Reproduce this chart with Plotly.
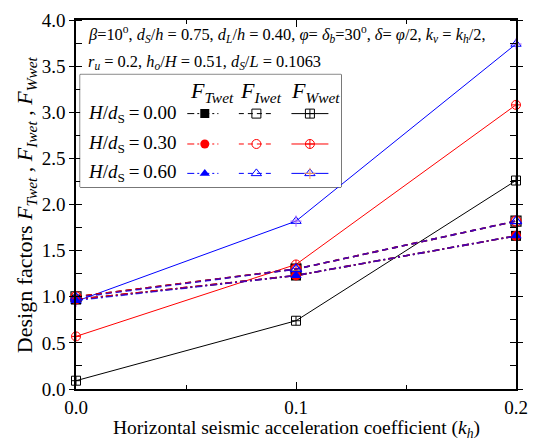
import plotly.graph_objects as go

# ---------------- data ----------------
kh = [0.0, 0.1, 0.2]
FT_000 = [0.97, 1.23, 1.66]
FT_030 = [0.97, 1.23, 1.66]
FT_060 = [0.96, 1.23, 1.66]
FI_000 = [1.00, 1.30, 1.82]
FI_030 = [1.00, 1.30, 1.82]
FI_060 = [0.99, 1.30, 1.82]
FW_000 = [0.09, 0.74, 2.26]
FW_030 = [0.57, 1.35, 3.08]
FW_060 = [0.95, 1.82, 3.74]
x_ticks = [0.0, 0.1, 0.2]
x_ticklabels = ["0.0", "0.1", "0.2"]
y_ticks = [0.0, 0.5, 1.0, 1.5, 2.0, 2.5, 3.0, 3.5, 4.0]
y_ticklabels = ["0.0", "0.5", "1.0", "1.5", "2.0", "2.5", "3.0", "3.5", "4.0"]
row_labels = ["0.00", "0.30", "0.60"]

FONT = "Liberation Serif"
BLACK, RED, BLUE = "#000000", "#FF0000", "#0000FF"

fig = go.Figure()

series = [
    (BLACK, "square", "square-open", "square-cross-open", FT_000, FI_000, FW_000, 1.0),
    (RED, "circle", "circle-open", "circle-cross-open", FT_030, FI_030, FW_030, 1.0),
    (BLUE, "triangle-up", "triangle-up-open", "triangle-up-open", FT_060, FI_060, FW_060, 0.7),
]

# solid W lines
for col, sT, sI, sW, ft, fi, fw, op in series:
    fig.add_trace(go.Scatter(x=kh, y=fw, mode="lines+markers",
                             line=dict(color=col, width=1),
                             marker=dict(symbol=sW, size=9, color=col, line=dict(width=1, color=col)),
                             showlegend=False, cliponaxis=False))
    if sW == "triangle-up-open":
        fig.add_trace(go.Scatter(x=kh, y=fw, mode="markers",
                                 marker=dict(symbol="cross-thin-open", size=8, line=dict(width=1, color=col)),
                                 showlegend=False, cliponaxis=False))
# dashed lines
for col, sT, sI, sW, ft, fi, fw, op in series:
    fig.add_trace(go.Scatter(x=kh, y=fi, mode="lines", opacity=op,
                             line=dict(color=col, width=1.6, dash="6px,4px"),
                             showlegend=False))
    fig.add_trace(go.Scatter(x=kh, y=ft, mode="lines", opacity=op,
                             line=dict(color=col, width=1.6, dash="7px,3px,2px,3px"),
                             showlegend=False))
for col, sT, sI, sW, ft, fi, fw, op in series:
    fig.add_trace(go.Scatter(x=kh, y=fi, mode="markers",
                             marker=dict(symbol=sI, size=10, color=col, line=dict(width=1.2, color=col)),
                             showlegend=False, cliponaxis=False))
    fig.add_trace(go.Scatter(x=kh, y=ft, mode="markers",
                             marker=dict(symbol=sT, size=10, color=col, line=dict(width=0, color=col)),
                             showlegend=False, cliponaxis=False))

# ---------------- legend (own axes in pixel-like units) ----------------
row_y = [108, 139, 169]
seg = [(190, 222, 208, "7px,3px,2px,3px"), (243, 277, 261, "5px,4px"), (297, 335, 316, "solid")]
for (col, sT, sI, sW, *_), ry in zip(series, row_y):
    syms = [sT, sI, sW]
    for k, (x0, x1, xm, dash) in enumerate(seg):
        fig.add_trace(go.Scatter(x=[x0, x1], y=[ry, ry], mode="lines", xaxis="x2", yaxis="y2",
                                 line=dict(color=col, width=1, dash=dash), showlegend=False))
        fig.add_trace(go.Scatter(x=[xm], y=[ry], mode="markers", xaxis="x2", yaxis="y2",
                                 marker=dict(symbol=syms[k], size=9, color=col,
                                             line=dict(width=1 if k else 0, color=col)),
                                 showlegend=False))
        if k == 2 and sW == "triangle-up-open":
            fig.add_trace(go.Scatter(x=[xm], y=[ry], mode="markers", xaxis="x2", yaxis="y2",
                                     marker=dict(symbol="cross-thin-open", size=8, line=dict(width=1, color=col)),
                                     showlegend=False))

annotations = []
for lab, ry in zip(row_labels, row_y):
    annotations.append(dict(xref="x2", yref="y2", x=86, y=ry, xanchor="left", yanchor="middle",
                            text=f"<i>H</i>/<i>d</i><sub>S</sub>\u2009=\u2009{lab}", showarrow=False,
                            font=dict(family=FONT, size=19, color="black")))
for txt, xc in [("Twet", 215), ("Iwet", 266), ("Wwet", 322)]:
    annotations.append(dict(xref="x2", yref="y2", x=xc, y=86, xanchor="center", yanchor="middle",
                            text=f"<i>F<sub>{txt}</sub></i>", showarrow=False,
                            font=dict(family=FONT, size=22, color="black")))

# geometry helpers
L = 75.7; R = 527.7; T = 12.5; B = 389.0
W = R - L; H = B - T
def px(x): return (x - L) / W
def py(y): return (B - y) / H

annotations.append(dict(xref="paper", yref="paper", x=px(86), y=py(27), xanchor="left", yanchor="middle",
    text="<i>β</i>=10<sup>o</sup>, <i>d<sub>S</sub></i>/<i>h</i> = 0.75, <i>d<sub>L</sub></i>/<i>h</i> = 0.40, "
         "<i>φ</i>= <i>δ<sub>b</sub></i>=30<sup>o</sup>, <i>δ</i>= <i>φ</i>/2, <i>k<sub>v</sub></i> = <i>k<sub>h</sub></i>/2,",
    showarrow=False, font=dict(family=FONT, size=16.4, color="black")))
annotations.append(dict(xref="paper", yref="paper", x=px(86), y=py(55), xanchor="left", yanchor="middle",
    text="<i>r<sub>u</sub></i> = 0.2, <i>h<sub>o</sub></i>/<i>H</i> = 0.51, <i>d<sub>S</sub></i>/<i>L</i> = 0.1063",
    showarrow=False, font=dict(family=FONT, size=16.4, color="black")))
annotations.append(dict(xref="paper", yref="paper", x=px(24), y=0.5, xanchor="center", yanchor="middle",
    textangle=-90,
    text="Design factors <i>F<sub>Twet</sub></i> , <i>F<sub>Iwet</sub></i> , <i>F<sub>Wwet</sub></i>",
    showarrow=False, font=dict(family=FONT, size=22, color="black")))
annotations.append(dict(xref="paper", yref="paper", x=0.5, y=py(430), xanchor="center", yanchor="middle",
    text="Horizontal seismic acceleration coefficient (<i>k<sub>h</sub></i>)",
    showarrow=False, font=dict(family=FONT, size=19.5, color="black")))

lx0, lx1, ly0, ly1 = 80, 348, 68, 183
shapes = [dict(type="rect", xref="paper", yref="paper", x0=px(lx0), x1=px(lx1), y0=py(ly1), y1=py(ly0),
               line=dict(color="black", width=1), fillcolor="white", layer="below")]

fig.update_layout(
    width=537, height=444,
    margin=dict(l=L, r=537 - R, t=T, b=444 - B),
    paper_bgcolor="white", plot_bgcolor="white",
    showlegend=False,
    annotations=annotations, shapes=shapes,
    xaxis=dict(range=[0, 0.2], tickvals=x_ticks, ticktext=x_ticklabels,
               ticks="inside", ticklen=7, tickwidth=1, tickcolor="black",
               minor=dict(dtick=0.05, ticks="inside", ticklen=4, tickcolor="black", showgrid=False),
               showline=True, linecolor="black", linewidth=1.5, mirror="ticks",
               showgrid=False, zeroline=False,
               tickfont=dict(family=FONT, size=19, color="black")),
    yaxis=dict(range=[0, 4], tickvals=y_ticks, ticktext=y_ticklabels,
               ticks="outside", ticklen=5, tickwidth=1, tickcolor="black",
               minor=dict(dtick=0.25, ticks="inside", ticklen=6, tickcolor="black", showgrid=False),
               showline=True, linecolor="black", linewidth=1.5, mirror="ticks",
               showgrid=False, zeroline=False,
               tickfont=dict(family=FONT, size=19, color="black")),
    xaxis2=dict(domain=[px(lx0), px(lx1)], range=[lx0, lx1], anchor="y2", visible=False),
    yaxis2=dict(domain=[py(ly1), py(ly0)], range=[ly1, ly0], anchor="x2", visible=False),
)

fig.write_html("out.html")
